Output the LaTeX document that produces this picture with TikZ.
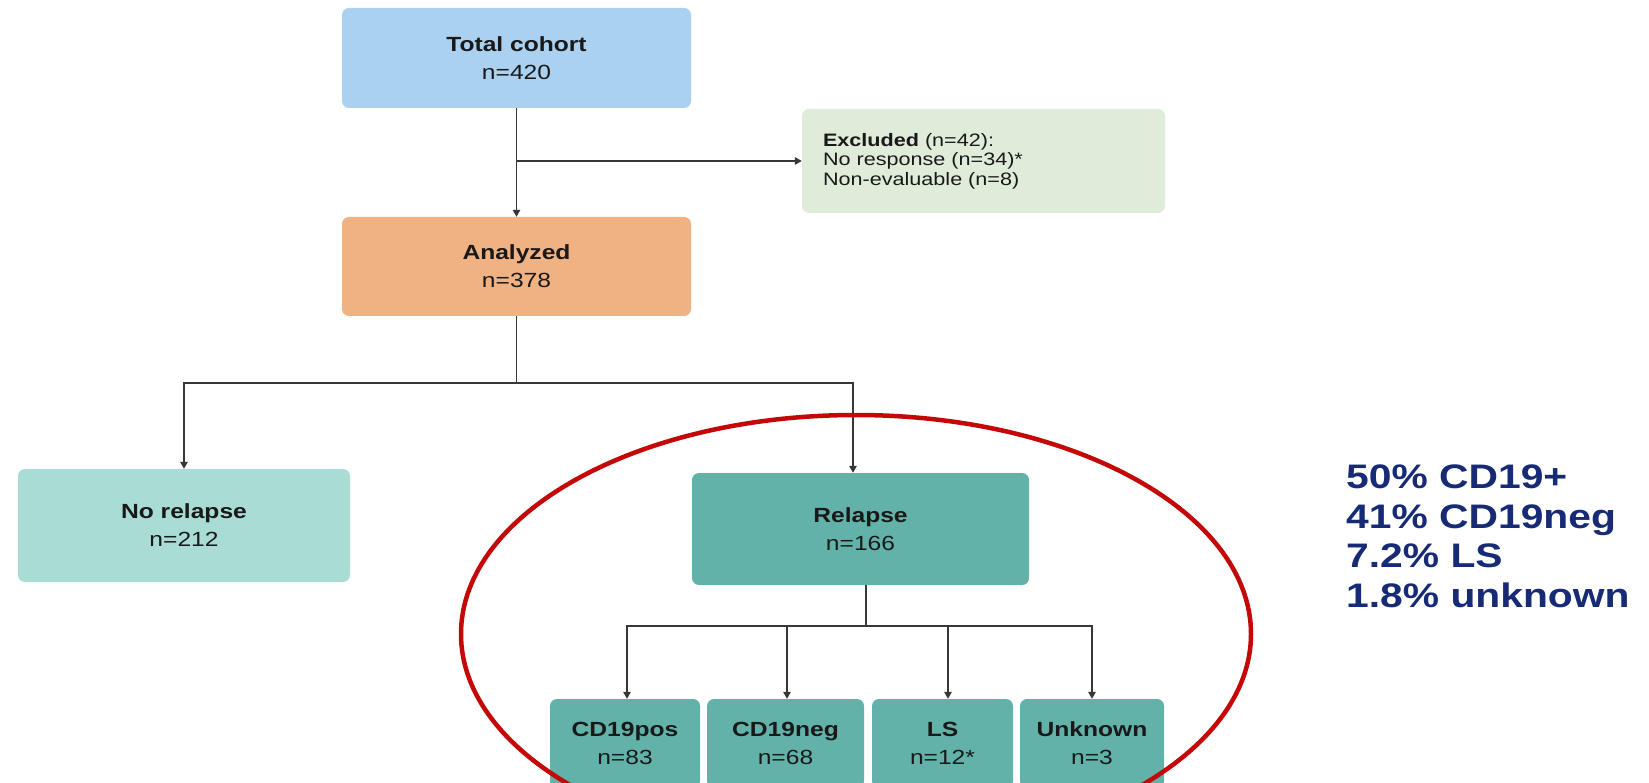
\documentclass[tikz,border=0pt]{standalone}
\usepackage{fontspec}
\setmainfont{Liberation Sans}[FakeStretch=1.2]
\usetikzlibrary{arrows.meta}
\definecolor{cblue}{RGB}{171,209,241}
\definecolor{cgreen}{RGB}{223,236,217}
\definecolor{corange}{RGB}{240,177,131}
\definecolor{clteal}{RGB}{170,220,214}
\definecolor{cteal}{RGB}{98,178,169}
\definecolor{cnavy}{RGB}{22,42,118}
\definecolor{cred}{RGB}{196,8,8}
\definecolor{lc}{RGB}{55,55,55}
\definecolor{txt}{RGB}{25,25,25}
\newcommand\bxfont{\fontsize{20.5}{28}\selectfont}
\newcommand\exfont{\fontsize{18}{19.5}\selectfont}
\newcommand\stfont{\fontsize{34}{40}\selectfont\bfseries}
\begin{document}
\begin{tikzpicture}[x=1pt,y=-1pt,
  box/.style={rounded corners=7pt, inner sep=0pt, align=center, font=\bxfont, text=txt},
  conn/.style={draw=lc, line width=1.4pt, -{Triangle[length=7pt,width=7.5pt]}},
  plain/.style={draw=lc, line width=1.4pt},
  stat/.style={anchor=base west, inner sep=0pt, font=\stfont, text=cnavy},
  redline/.style={draw=cred, line width=4.5pt}]
\clip (0,0) rectangle (1649,783);
\fill[white] (0,0) rectangle (1649,783);

\node[box, fill=cblue, minimum width=349pt, minimum height=100pt] (tc) at (516.5,58) {\textbf{Total cohort}\\n=420};
\node[box, fill=cgreen, minimum height=104pt, text width=321pt, inner xsep=21pt, align=left, font=\exfont] (ex) at (983.5,161) {\textbf{Excluded} (n=42):\\No response (n=34)*\\Non-evaluable (n=8)};
\node[box, fill=corange, minimum width=349pt, minimum height=99pt] (an) at (516.5,266.5) {\textbf{Analyzed}\\n=378};
\node[box, fill=clteal, minimum width=332pt, minimum height=113pt] (nr) at (184,525.5) {\textbf{No relapse}\\n=212};
\node[box, fill=cteal, minimum width=337pt, minimum height=112pt] (rl) at (860.5,529) {\textbf{Relapse}\\n=166};
\node[box, fill=cteal, minimum width=150pt, minimum height=89pt] (b1) at (625,743.5) {\textbf{CD19pos}\\n=83};
\node[box, fill=cteal, minimum width=157pt, minimum height=89pt] (b2) at (785.5,743.5) {\textbf{CD19neg}\\n=68};
\node[box, fill=cteal, minimum width=141pt, minimum height=89pt] (b3) at (942.5,743.5) {\textbf{LS}\\n=12*};
\node[box, fill=cteal, minimum width=144pt, minimum height=89pt] (b4) at (1092,743.5) {\textbf{Unknown}\\n=3};

\draw[conn] (tc.south) -- (an.north);
\draw[conn] (tc.south |- ex.west) -- (ex.west);
\coordinate (s1) at (516.5,383);
\draw[plain] (an.south) -- (s1);
\draw[conn] (s1) -| (nr.north);
\draw[conn] (s1) -| ([xshift=-7.5pt]rl.north);
\coordinate (s2) at (866,626);
\draw[plain] ([xshift=5.5pt]rl.south) -- (s2);
\draw[conn] (s2) -| ([xshift=2pt]b1.north);
\draw[conn] (s2) -| ([xshift=1.5pt]b2.north);
\draw[conn] (s2) -| ([xshift=5.5pt]b3.north);
\draw[conn] (s2) -| (b4.north);

\node[stat] (p1) at (1346,488) {50\% CD19+};
\node[stat] (p2) at (1346,528) {41\% CD19neg};
\node[stat] (p3) at (1346,567) {7.2\% LS};
\node[stat] (p4) at (1346,607) {1.8\% unknown};

\draw[redline] (856,634) ellipse [x radius=395pt, y radius=219pt];
\end{tikzpicture}
\end{document}
